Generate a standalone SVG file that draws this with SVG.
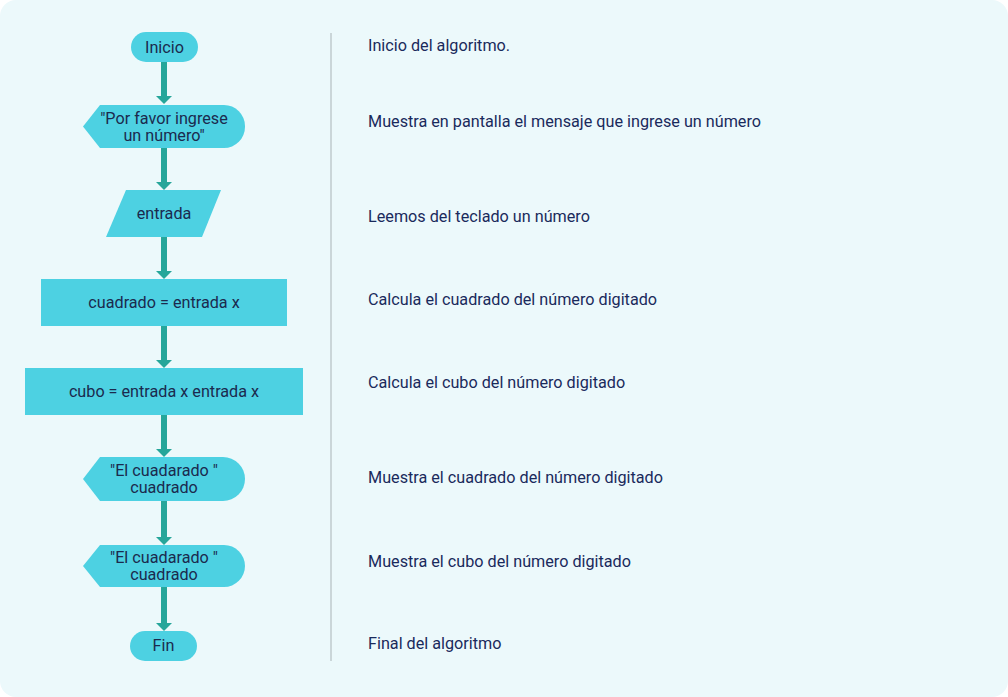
<svg xmlns="http://www.w3.org/2000/svg" width="1008" height="697" viewBox="0 0 1008 697">
<style>
.bg{fill:#ECF9FB}
.n{fill:#4DD1E2}
.t{font-family:Roboto,"Liberation Sans",sans-serif;font-size:16.2px;fill:#1B2A4E;text-anchor:middle}
.d{font-family:Roboto,"Liberation Sans",sans-serif;font-size:16.2px;fill:#1A2A5C}
.c{stroke:#26A69A;stroke-width:6;fill:none}
.h{fill:#26A69A}
</style>
<defs>
<path id="ah" d="M-8,0 H8 L0,8 Z"/>
</defs>
<rect width="1008" height="697" fill="#ffffff"/>
<rect class="bg" x="0" y="0" width="1008" height="697" rx="16"/>
<line x1="331" y1="33" x2="331" y2="661" stroke="#A9B3B6" stroke-width="1"/>
<g id="connectors">
<line class="c" x1="164" y1="62" x2="164" y2="97"/><use href="#ah" class="h" x="164" y="96"/>
<line class="c" x1="164" y1="148" x2="164" y2="183"/><use href="#ah" class="h" x="164" y="182"/>
<line class="c" x1="164" y1="237" x2="164" y2="272"/><use href="#ah" class="h" x="164" y="271"/>
<line class="c" x1="164" y1="326" x2="164" y2="361"/><use href="#ah" class="h" x="164" y="360"/>
<line class="c" x1="164" y1="415" x2="164" y2="450"/><use href="#ah" class="h" x="164" y="449"/>
<line class="c" x1="164" y1="501" x2="164" y2="538"/><use href="#ah" class="h" x="164" y="537"/>
<line class="c" x1="164" y1="587" x2="164" y2="624"/><use href="#ah" class="h" x="164" y="623"/>
</g>
<g id="n-inicio">
<rect class="n" x="131" y="32" width="67" height="30" rx="15"/>
<text class="t" x="164.5" y="53">Inicio</text>
</g>
<g id="n-msg1">
<path class="n" d="M100,105 H224 A21,21 0 0 1 245,126 V127 A21,21 0 0 1 224,148 H100 L83,126.5 Z"/>
<text class="t" x="164" y="124">"Por favor ingrese</text>
<text class="t" x="164" y="141">un número"</text>
</g>
<g id="n-entrada">
<path class="n" d="M126,190 H221 L202,237 H106 Z"/>
<text class="t" x="164" y="219">entrada</text>
</g>
<g id="n-cuadrado">
<rect class="n" x="41" y="279" width="246" height="47"/>
<text class="t" x="164" y="308">cuadrado = entrada x</text>
</g>
<g id="n-cubo">
<rect class="n" x="25" y="368" width="278" height="47"/>
<text class="t" x="164" y="397">cubo = entrada x entrada x</text>
</g>
<g id="n-msg2">
<path class="n" d="M100,457 H223 A22,22 0 0 1 245,479 A22,22 0 0 1 223,501 H100 L83,479 Z"/>
<text class="t" x="164" y="476">"El cuadarado "</text>
<text class="t" x="164" y="493">cuadrado</text>
</g>
<g id="n-msg3">
<path class="n" d="M100,545 H224 A21,21 0 0 1 245,566 A21,21 0 0 1 224,587 H100 L83,566 Z"/>
<text class="t" x="164" y="563">"El cuadarado "</text>
<text class="t" x="164" y="580">cuadrado</text>
</g>
<g id="n-fin">
<rect class="n" x="130" y="631" width="67" height="30" rx="15"/>
<text class="t" x="163.5" y="651">Fin</text>
</g>
<g id="descriptions">
<text class="d" x="368" y="51">Inicio del algoritmo.</text>
<text class="d" x="368" y="127">Muestra en pantalla el mensaje que ingrese un número</text>
<text class="d" x="368" y="222">Leemos del teclado un número</text>
<text class="d" x="368" y="305">Calcula el cuadrado del número digitado</text>
<text class="d" x="368" y="388">Calcula el cubo del número digitado</text>
<text class="d" x="368" y="483">Muestra el cuadrado del número digitado</text>
<text class="d" x="368" y="567">Muestra el cubo del número digitado</text>
<text class="d" x="368" y="649">Final del algoritmo</text>
</g>
</svg>
